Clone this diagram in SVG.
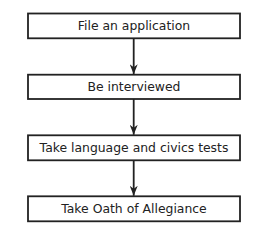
<svg xmlns="http://www.w3.org/2000/svg" width="269" height="238" viewBox="0 0 269 238">
<style>
.box{fill:#fff;stroke:#222;stroke-width:1.8}
.lbl{font-family:"DejaVu Sans",Verdana,sans-serif;font-size:12.4px;fill:#222;text-anchor:middle}
.con{stroke:#222;stroke-width:1.8;fill:none;marker-end:url(#ah)}
</style>
<defs>
<marker id="ah" viewBox="0 0 10 10" refX="10" refY="5" markerWidth="10" markerHeight="8" markerUnits="userSpaceOnUse" orient="auto" preserveAspectRatio="none">
<path d="M0,0 L10,5 L0,10 L3,5 Z" fill="#222"/>
</marker>
</defs>
<rect width="269" height="238" fill="#fff"/>
<g id="connectors">
<line class="con" x1="133.7" y1="38.3" x2="133.7" y2="74.2"/>
<line class="con" x1="133.7" y1="99" x2="133.7" y2="134.8"/>
<line class="con" x1="133.7" y1="160.3" x2="133.7" y2="195.8"/>
</g>
<g id="n1"><rect class="box" x="28" y="13.5" width="212" height="24.8"/><text class="lbl" x="134" y="30">File an application</text></g>
<g id="n2"><rect class="box" x="28" y="74.7" width="212" height="24.3"/><text class="lbl" x="134" y="91">Be interviewed</text></g>
<g id="n3"><rect class="box" x="28" y="135.3" width="212" height="25"/><text class="lbl" x="134" y="152">Take language and civics tests</text></g>
<g id="n4"><rect class="box" x="28" y="196.3" width="212" height="25"/><text class="lbl" x="134" y="213">Take Oath of Allegiance</text></g>
</svg>
